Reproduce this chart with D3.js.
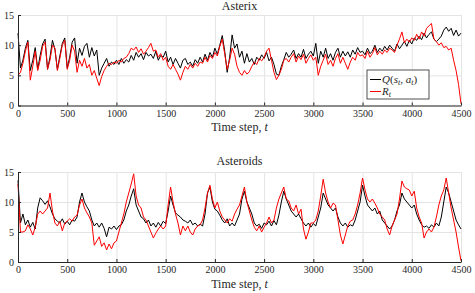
<!DOCTYPE html>
<html lang="en">
<head>
<meta charset="UTF-8">
<title>Asterix / Asteroids</title>
<style>
    body { margin: 0; background: #fff; }
    svg text { font-family: "Liberation Serif", "Times New Roman", serif !important; fill: #262626; }
    .grid line { stroke: #e4e4e4; stroke-width: 1px; }
    .grid path { display: none; }
    .axis path, .axis line { stroke: #262626; }
    .series { fill: none; stroke-width: 1px; stroke-linejoin: round; }
</style>
</head>
<body>
<div id="chart"></div>
<script src="https://cdn.jsdelivr.net/npm/d3@7/dist/d3.min.js"></script>
<script>
    var width = 475, height = 293;
    var step = 25;   // one value every 25 time steps, 0..4500
    var serif = '"Liberation Serif", "Times New Roman", serif';

    var xTicks = [0, 500, 1000, 1500, 2000, 2500, 3000, 3500, 4000, 4500];
    var yTicks = [0, 5, 10, 15];

    // Asterix
    var asterixQ = [12.0,6.2,7.5,9.5,10.8,5.8,7.5,9.6,6.0,8.3,10.2,11.0,6.0,8.0,10.8,9.3,6.0,8.2,10.3,11.2,
        6.2,8.0,10.5,11.2,7.0,9.5,8.3,9.8,10.3,8.0,9.6,8.2,9.2,5.0,6.2,7.0,7.8,6.5,7.2,6.8,
        7.5,6.8,7.8,7.0,7.6,7.2,8.3,7.5,8.8,8.0,8.6,7.6,8.8,8.2,8.5,7.8,9.0,7.5,8.3,8.0,
        9.0,7.2,8.0,6.8,7.8,7.0,6.2,7.5,7.8,6.8,7.2,6.5,7.6,7.0,8.0,7.2,8.5,7.5,8.8,8.0,
        9.5,8.5,10.0,11.6,9.0,5.5,8.0,11.7,9.5,10.2,8.0,9.0,7.0,8.6,7.2,7.8,6.8,8.0,7.5,8.4,
        7.8,8.8,7.4,8.0,6.8,5.2,5.0,6.5,7.6,8.8,8.0,8.5,9.2,7.8,8.6,8.0,9.3,7.8,8.5,9.0,
        8.2,10.3,7.0,9.0,8.0,9.5,7.8,8.6,7.5,8.8,9.5,8.0,9.0,8.2,8.9,8.0,9.2,8.5,9.6,8.8,
        9.0,8.4,9.5,8.6,9.0,10.0,8.8,9.5,9.0,9.8,9.2,10.0,9.5,9.0,10.2,9.4,10.0,10.6,9.8,10.8,
        10.2,11.2,10.8,11.5,10.9,12.0,11.2,11.8,12.2,11.0,10.6,11.0,11.5,12.5,13.0,12.3,12.8,11.6,12.5,11.5,
        12.0];
    var asterixR = [5.0,5.5,7.0,9.0,10.5,4.2,6.5,9.0,5.8,7.5,9.8,10.5,6.0,7.5,10.0,9.5,5.8,7.8,10.0,10.8,
        6.0,7.5,10.0,9.0,5.5,7.5,6.5,7.8,6.2,6.8,5.0,5.8,4.5,3.3,4.8,5.8,6.5,7.0,6.8,7.2,
        7.0,7.5,7.2,7.8,8.0,8.6,9.5,9.2,9.7,8.8,9.4,8.5,9.0,9.6,10.3,9.0,9.2,8.0,8.6,7.5,
        8.0,6.5,6.0,6.8,6.0,5.2,4.2,5.5,6.5,6.0,6.8,6.2,7.0,6.5,7.2,7.0,8.0,7.2,8.3,7.8,
        8.8,8.2,9.8,11.0,8.5,6.0,7.5,9.5,8.5,6.5,5.5,5.0,5.8,5.2,5.6,6.5,7.2,6.8,7.8,7.4,
        8.0,9.0,9.5,7.5,5.5,4.3,5.0,6.0,7.5,7.8,7.2,8.0,8.6,7.2,8.2,7.6,8.5,7.0,7.8,8.4,
        7.5,8.0,5.0,6.5,7.5,8.5,6.8,7.5,6.5,7.8,8.6,7.0,8.0,7.0,6.0,7.2,8.0,7.5,8.8,8.2,
        8.4,7.8,9.0,8.0,8.6,9.6,8.4,9.0,8.5,9.2,8.8,9.5,9.2,8.8,10.0,11.0,12.2,10.4,11.0,10.5,
        11.2,10.8,11.8,11.0,12.2,11.5,12.8,13.2,13.6,11.0,10.6,10.0,10.4,9.6,9.8,9.2,9.5,7.5,5.8,3.5,
        0.3];

    // Asteroids
    var asteroidsQ = [13.6,6.5,8.0,6.2,7.0,5.8,6.6,5.5,9.0,10.7,10.2,9.6,10.2,9.2,8.0,7.2,6.8,6.5,7.2,6.3,
        6.8,6.2,7.0,6.8,7.5,10.0,11.5,10.0,9.2,8.5,7.0,6.0,6.5,5.8,6.5,5.6,4.2,5.8,5.5,6.0,
        5.4,6.0,6.2,7.0,8.5,9.5,11.0,12.2,9.5,8.5,7.5,7.2,6.5,7.0,6.0,6.5,5.8,6.6,6.0,6.8,
        6.4,8.5,11.0,9.5,8.2,7.8,7.5,7.0,6.8,6.5,7.0,6.2,6.5,6.0,6.3,6.0,8.0,11.5,12.5,10.0,
        8.8,8.5,7.8,7.0,6.5,7.2,6.0,6.5,6.0,7.0,8.0,10.5,11.8,10.0,9.0,8.0,6.5,6.0,6.3,5.6,
        6.5,6.2,6.8,6.0,6.9,6.2,7.8,10.0,11.8,10.5,9.5,8.5,8.0,7.5,8.0,7.2,6.5,6.0,6.5,5.8,
        6.4,6.0,7.5,9.0,11.5,10.5,9.5,9.0,8.5,9.0,7.5,6.5,6.0,6.5,5.8,6.2,6.0,7.0,8.5,10.0,
        12.8,11.0,9.5,9.0,8.5,9.0,8.0,8.5,7.0,6.5,6.0,5.5,6.0,7.0,8.5,9.5,11.5,10.5,10.0,9.5,
        9.0,9.5,8.0,7.0,6.2,5.8,6.0,5.6,6.2,5.8,6.5,6.0,7.5,10.0,12.5,11.5,10.0,8.5,7.0,6.2,
        5.5];
    var asteroidsR = [13.0,5.0,5.0,5.2,6.2,5.5,4.5,5.8,8.0,8.5,8.0,8.5,9.0,11.5,8.5,6.5,6.0,6.8,5.2,6.5,
        6.8,7.2,6.8,7.5,7.8,9.5,10.5,9.0,8.2,7.5,6.5,2.8,3.5,4.2,2.6,3.2,2.0,3.0,2.2,3.2,
        3.5,5.0,6.5,8.0,10.0,11.5,13.0,14.7,11.0,9.5,9.0,7.5,7.0,6.0,5.0,4.0,4.8,5.5,6.0,5.5,
        6.0,9.5,12.5,10.0,8.0,6.5,4.5,6.0,5.2,6.0,5.0,4.5,5.5,6.0,6.2,7.0,9.0,11.5,12.8,10.5,
        9.0,10.0,8.5,7.5,7.0,6.5,7.2,6.8,8.0,8.8,9.5,11.0,12.5,10.0,8.5,7.0,5.8,5.2,6.0,5.0,
        5.8,6.5,7.5,6.5,7.0,9.0,10.5,11.5,12.5,10.5,10.2,9.0,8.5,9.5,8.0,8.8,5.5,3.8,5.0,6.5,
        6.5,7.0,8.5,11.0,13.8,11.5,10.0,9.0,9.8,9.5,7.0,4.5,3.0,4.5,6.0,6.8,7.0,8.0,9.5,11.5,
        14.0,12.0,10.5,10.0,10.5,9.8,9.0,8.0,7.5,7.0,5.5,4.5,6.0,7.0,8.0,10.5,13.5,12.5,12.2,12.0,
        11.0,11.8,9.0,7.5,6.5,4.0,5.0,5.5,5.0,5.8,7.5,9.5,11.0,12.0,14.0,11.5,9.0,7.0,5.0,2.5,
        0.2];

    var panels = [
        {title: "Asterix", q: asterixQ, r: asterixR, top: 15, bottom: 105.5, titleY: 9.5, legend: true},
        {title: "Asteroids", q: asteroidsQ, r: asteroidsR, top: 172, bottom: 262, titleY: 165, legend: false}
    ];

    var left = 18, right = 461;

    var svg = d3.select("#chart").append("svg")
        .attr("width", width)
        .attr("height", height)
        .style("font-family", serif);

    var x = d3.scaleLinear().domain([0, 4500]).range([left, right]);

    panels.forEach(function (p) {
        var y = d3.scaleLinear().domain([0, 15]).range([p.bottom, p.top]);
        var g = svg.append("g");

        // grid
        g.append("g")
            .attr("class", "grid")
            .attr("transform", "translate(0," + p.bottom + ")")
            .call(d3.axisBottom(x).tickValues(xTicks).tickSize(-(p.bottom - p.top)).tickFormat(""));
        g.append("g")
            .attr("class", "grid")
            .attr("transform", "translate(" + left + ",0)")
            .call(d3.axisLeft(y).tickValues(yTicks).tickSize(-(right - left)).tickFormat(""));

        // lines
        var line = d3.line()
            .x(function (d, i) { return x(i * step); })
            .y(function (d) { return y(d); });

        g.append("path").datum(p.q)
            .attr("class", "series")
            .attr("stroke", "#000")
            .attr("d", line);
        g.append("path").datum(p.r)
            .attr("class", "series")
            .attr("stroke", "#ff0000")
            .attr("d", line);

        // axes
        var xa = g.append("g")
            .attr("class", "axis")
            .attr("transform", "translate(0," + p.bottom + ")")
            .call(d3.axisBottom(x).tickValues(xTicks).tickFormat(d3.format("d"))
                .tickSizeInner(-3).tickSizeOuter(0).tickPadding(4));
        xa.attr("font-family", serif).selectAll("text").style("font-size", "10px");

        var ya = g.append("g")
            .attr("class", "axis")
            .attr("transform", "translate(" + left + ",0)")
            .call(d3.axisLeft(y).tickValues(yTicks).tickFormat(d3.format("d"))
                .tickSizeInner(-3).tickSizeOuter(0).tickPadding(4));
        ya.attr("font-family", serif).selectAll("text").style("font-size", "10px");

        // title
        g.append("text")
            .attr("x", (left + right) / 2)
            .attr("y", p.titleY)
            .attr("text-anchor", "middle")
            .style("font-size", "12px")
            .text(p.title);

        // x label
        var xl = g.append("text")
            .attr("x", (left + right) / 2)
            .attr("y", p.bottom + 25.5)
            .attr("text-anchor", "middle")
            .style("font-size", "12px");
        xl.append("tspan").text("Time step, ");
        xl.append("tspan").style("font-style", "italic").text("t");

        if (p.legend) {
            var lg = g.append("g").attr("transform", "translate(367,70)");
            lg.append("rect")
                .attr("width", 62).attr("height", 29)
                .attr("fill", "#fff")
                .attr("stroke", "#262626")
                .attr("stroke-width", 0.8);
            lg.append("line").attr("x1", 3).attr("x2", 14).attr("y1", 9.5).attr("y2", 9.5)
                .attr("stroke", "#000");
            lg.append("line").attr("x1", 3).attr("x2", 14).attr("y1", 21.5).attr("y2", 21.5)
                .attr("stroke", "#ff0000");

            var t1 = lg.append("text").attr("x", 15).attr("y", 13).style("font-size", "11px");
            t1.append("tspan").style("font-style", "italic").text("Q");
            t1.append("tspan").text("(");
            t1.append("tspan").style("font-style", "italic").text("s");
            t1.append("tspan").style("font-style", "italic").style("font-size", "8px").attr("dy", 2).text("t");
            t1.append("tspan").attr("dy", -2).text(", ");
            t1.append("tspan").style("font-style", "italic").text("a");
            t1.append("tspan").style("font-style", "italic").style("font-size", "8px").attr("dy", 2).text("t");
            t1.append("tspan").attr("dy", -2).text(")");

            var t2 = lg.append("text").attr("x", 15).attr("y", 25).style("font-size", "11px");
            t2.append("tspan").style("font-style", "italic").text("R");
            t2.append("tspan").style("font-style", "italic").style("font-size", "8px").attr("dy", 2).text("t");
        }
    });
</script>
</body>
</html>
